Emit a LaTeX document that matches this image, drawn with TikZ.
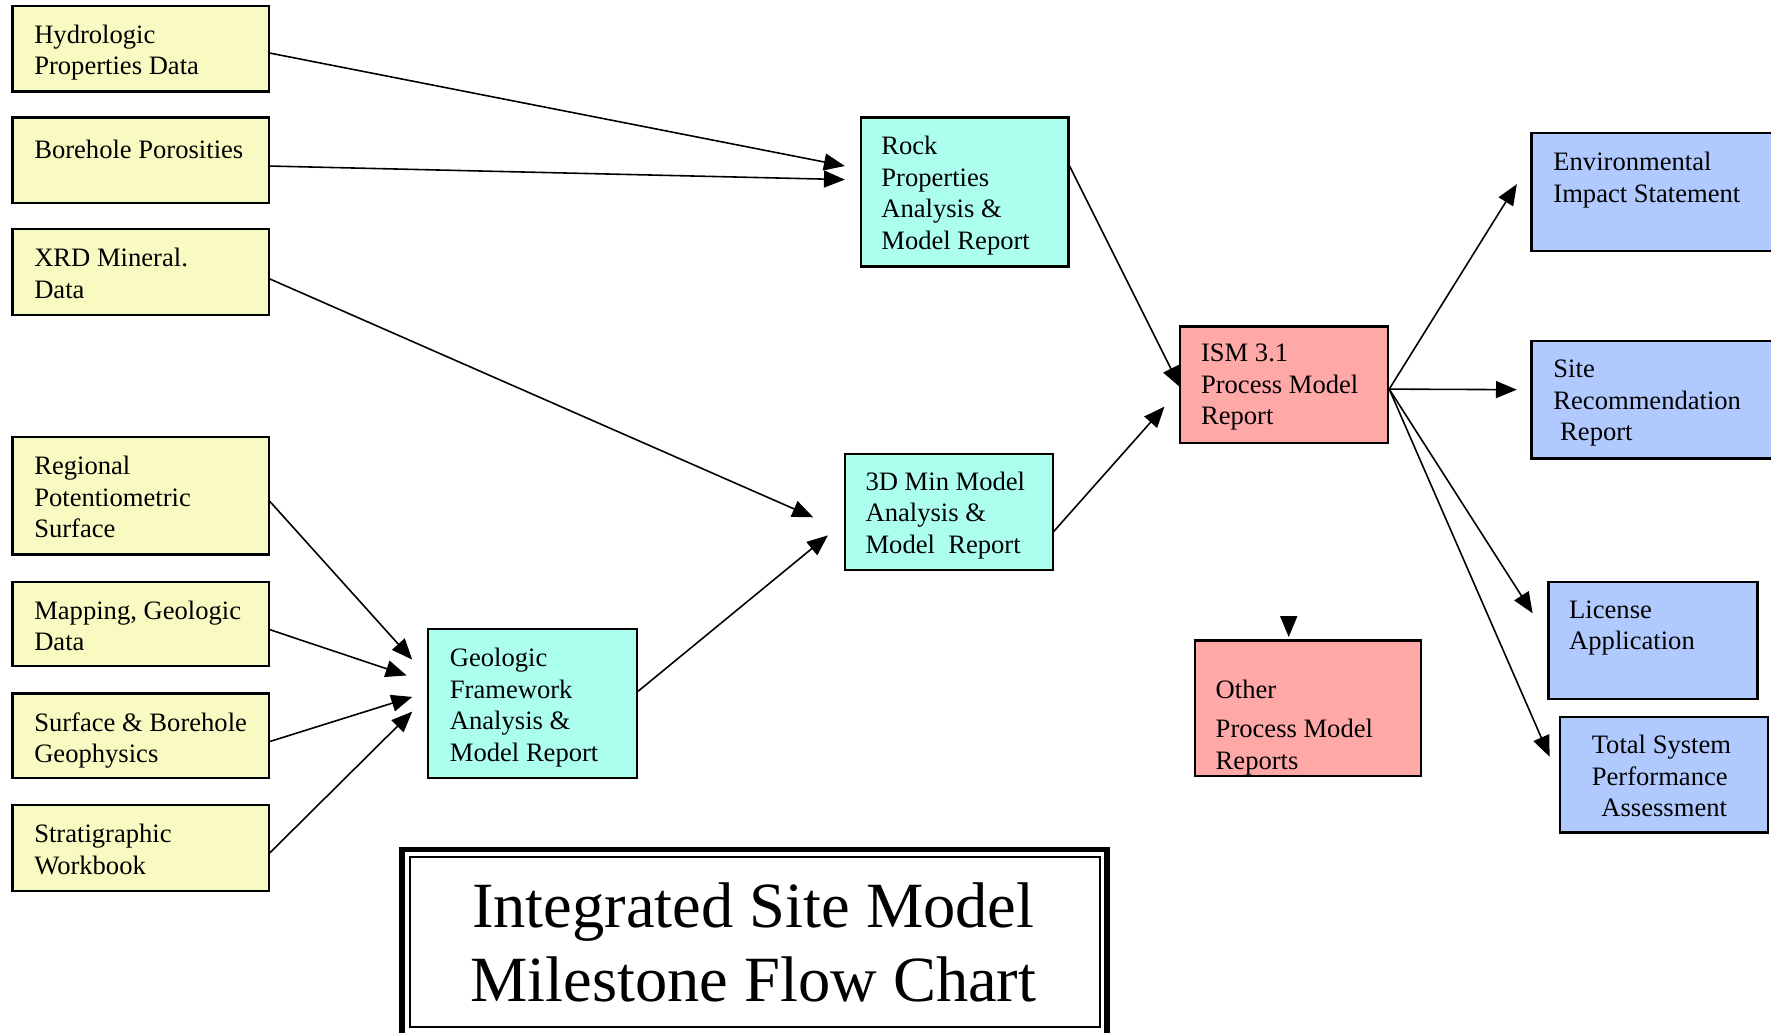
\documentclass[tikz,border=0pt]{standalone}
\usepackage{fontspec}
\setmainfont{Liberation Serif}
\usetikzlibrary{arrows.meta,calc,fit}
\definecolor{yel}{RGB}{248,250,194}
\definecolor{cya}{RGB}{172,255,238}
\definecolor{pnk}{RGB}{255,168,168}
\definecolor{blu}{RGB}{176,202,255}
\newcommand\mybox[6]{\node[#6, fit={(#2,#3) (#4,#5)}] (#1) {};}
\newcommand\mytext[4]{\node[txt] (#1) at (#2,{#3-15.6}) {#4};}
\begin{document}
\begin{tikzpicture}[x=0.02cm,y=-0.02cm,
  box/.style={draw=black, line width=1.1pt, inner sep=0pt},
  ybox/.style={box, fill=yel},
  cbox/.style={box, fill=cya},
  pbox/.style={box, fill=pnk},
  bbox/.style={box, fill=blu},
  txt/.style={font=\fontsize{13.4}{15.9}\selectfont, align=left, inner sep=0pt, anchor=north west, execute at begin node=\strut},
  arr/.style={draw=black, line width=0.8pt, -{Triangle[length=0.37cm,width=0.3cm]}}]
\useasboundingbox (0,0) rectangle (1568,914);
\clip (0,0) rectangle (1568,914);

% yellow input boxes
\mybox{hyd}{11}{5}{238}{81}{ybox}
\mybox{bor}{11}{104}{238}{180}{ybox}
\mybox{xrd}{11}{203}{238}{279}{ybox}
\mybox{reg}{11}{387}{238}{491}{ybox}
\mybox{map}{11}{515}{238}{590}{ybox}
\mybox{sur}{11}{614}{238}{689}{ybox}
\mybox{str}{11}{713}{238}{789}{ybox}
\mytext{hydt}{30}{37}{Hydrologic\\Properties Data}
\mytext{bort}{30}{136}{Borehole Porosities}
\mytext{xrdt}{30}{235}{XRD Mineral.\\Data}
\mytext{regt}{30}{419}{Regional\\Potentiometric\\Surface}
\mytext{mapt}{30}{547}{Mapping, Geologic\\Data}
\mytext{surt}{30}{646}{Surface \& Borehole\\Geophysics}
\mytext{strt}{30}{745}{Stratigraphic\\Workbook}

% cyan analysis boxes
\mybox{rock}{762}{104}{946}{236}{cbox}
\mybox{min}{748}{402}{932}{505}{cbox}
\mybox{geo}{379}{557}{564}{689}{cbox}
\mytext{rockt}{780}{136}{Rock\\Properties\\Analysis \&\\Model Report}
\mytext{mint}{766}{433}{3D Min Model\\Analysis \&\\Model\ \ Report}
\mytext{geot}{398}{589}{Geologic\\Framework\\Analysis \&\\Model Report}

% pink process model reports
\mybox{ism}{1045}{289}{1229}{392}{pbox}
\mybox{oth}{1058}{567}{1258}{687}{pbox}
\mytext{ismt}{1063}{320}{ISM 3.1\\Process Model\\Report}
\mytext{otht}{1076}{617}{Other\\[0.14cm]Process Model\\Reports}

% blue products
\mybox{env}{1356}{118}{1580}{222}{bbox}
\mybox{site}{1356}{302}{1580}{406}{bbox}
\mybox{lic}{1371}{515}{1556}{619}{bbox}
\mybox{tsp}{1381}{635}{1565}{737}{bbox}
\mytext{envt}{1375}{150}{Environmental\\Impact Statement}
\mytext{sitet}{1375}{334}{Site\\Recommendation\\\hspace*{0.12cm}Report}
\mytext{lict}{1389}{547}{License\\Application}
\mytext{tspt}{1409}{666}{Total System\\Performance\\\hspace*{0.17cm}Assessment}

% arrow end points
\coordinate (e1) at (748,147);
\coordinate (e2) at (748,159);
\coordinate (e3) at (720,458);
\coordinate (e4) at (365,584);
\coordinate (e5) at (360,598);
\coordinate (e6) at (365,617);
\coordinate (e7) at (365,630);
\coordinate (e8) at (733,474);
\coordinate (e9) at (1031,360);
\coordinate (e10) at (1045,343);
\coordinate (e11) at (1343,163);
\coordinate (e12) at (1343,345);
\coordinate (e13) at (1357,543);
\coordinate (e14) at (1372,670);
\coordinate (lone) at (1141,545);

\draw[arr] ($(hyd.east)+(0,4)$) -- (e1);
\draw[arr] ($(bor.east)+(0,5)$) -- (e2);
\draw[arr] ($(xrd.east)+(0,6)$) -- (e3);
\draw[arr] ($(reg.east)+(0,5)$) -- (e4);
\draw[arr] ($(map.east)+(0,5)$) -- (e5);
\draw[arr] ($(sur.east)+(0,5)$) -- (e6);
\draw[arr] ($(str.east)+(0,4)$) -- (e7);
\draw[arr] ($(geo.east)+(0,-11)$) -- (e8);
\draw[arr] ($(min.east)+(0,17)$) -- (e9);
\draw[arr] ($(rock.east)+(0,-23)$) -- (e10);
\draw[arr] ($(ism.east)+(0,4)$) -- (e11);
\draw[arr] ($(ism.east)+(0,4)$) -- (e12);
\draw[arr] ($(ism.east)+(0,4)$) -- (e13);
\draw[arr] ($(ism.east)+(0,4)$) -- (e14);
\draw[arr] (lone) -- ($(lone |- oth.north)+(0,-2)$);

% title
\node[fit={(356,752) (980,917)}, draw=black, line width=2.8pt, inner sep=0pt] (tbo) {};
\node[fit={(363,759) (974,909)}, draw=black, line width=1.1pt, inner sep=0pt] (tbi) {};
\node[font=\fontsize{32.5}{37.5}\selectfont, align=center, inner sep=0pt, anchor=north, execute at begin node=\strut] (title) at (667,781) {Integrated Site Model\\Milestone Flow Chart};
\end{tikzpicture}
\end{document}
